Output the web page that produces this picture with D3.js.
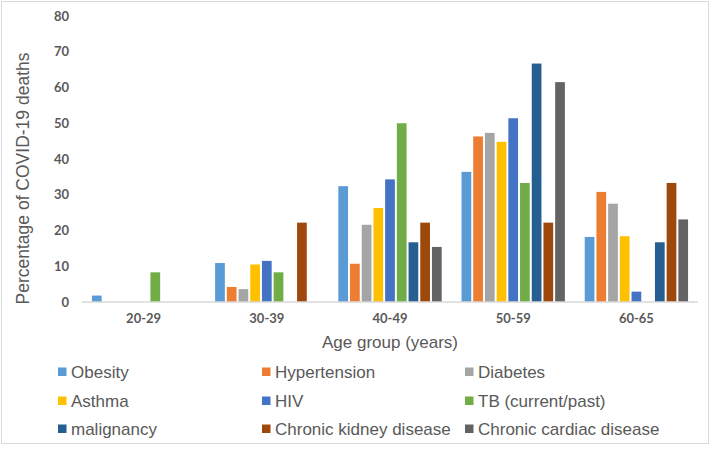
<!DOCTYPE html>
<html>
<head>
<meta charset="utf-8">
<script src="https://cdn.jsdelivr.net/npm/d3@7"></script>
<style>
  html, body { margin: 0; padding: 0; background: #fff; }
  svg { display: block; }
</style>
</head>
<body>
<script>
const categories = ["20-29", "30-39", "40-49", "50-59", "60-65"];
const seriesNames = ["Obesity", "Hypertension", "Diabetes", "Asthma", "HIV", "TB (current/past)", "malignancy", "Chronic kidney disease", "Chronic cardiac disease"];
const seriesColors = ["#5B9BD5", "#ED7D31", "#A5A5A5", "#FFC000", "#4472C4", "#70AD47", "#255E91", "#9E480E", "#636363"];
const obesity      = [1.8, 10.9, 32.4, 36.4, 18.2];
const hypertension = [0, 4.2, 10.7, 46.3, 30.8];
const diabetes     = [0, 3.6, 21.6, 47.3, 27.5];
const asthma       = [0, 10.5, 26.3, 44.8, 18.4];
const hiv          = [0, 11.5, 34.3, 51.4, 2.9];
const tb           = [8.3, 8.3, 50.0, 33.3, 0];
const malignancy   = [0, 0, 16.7, 66.7, 16.7];
const ckd          = [0, 22.2, 22.2, 22.2, 33.3];
const cardiac      = [0, 0, 15.4, 61.5, 23.1];
const yTicks = [0, 10, 20, 30, 40, 50, 60, 70, 80];

const seriesValues = [obesity, hypertension, diabetes, asthma, hiv, tb, malignancy, ckd, cardiac];

const W = 714, H = 452;
const svg = d3.select("body").append("svg").attr("width", W).attr("height", H);

svg.append("rect").attr("x", 1.5).attr("y", 1.5).attr("width", 707).attr("height", 442)
  .attr("fill", "#fff").attr("stroke", "#d9d9d9");

const plot = { left: 82, right: 698, top: 16, bottom: 302 };

const x0 = d3.scaleBand().domain(categories).range([plot.left, plot.right])
  .paddingInner(0.145).paddingOuter(0.0725);
const x1 = d3.scaleBand().domain(seriesNames).range([0, x0.bandwidth()])
  .paddingInner(0.17).paddingOuter(0.085);
const y = d3.scaleLinear().domain([0, 80]).range([plot.bottom, plot.top]);

// bars
const groups = svg.append("g").selectAll("g").data(categories).join("g")
  .attr("transform", c => `translate(${x0(c)},0)`);
groups.selectAll("rect")
  .data((c, ci) => seriesNames.map((s, si) => ({ s, si, v: seriesValues[si][ci] })))
  .join("rect")
  .filter(d => d.v > 0)
  .attr("x", d => x1(d.s))
  .attr("width", x1.bandwidth())
  .attr("y", d => y(d.v))
  .attr("height", d => y(0) - y(d.v))
  .attr("fill", d => seriesColors[d.si]);

// x axis line
const xAxis = d3.axisBottom(x0).tickSize(0).tickPadding(12);
const gx = svg.append("g").attr("transform", `translate(0,${plot.bottom})`).call(xAxis);
gx.select(".domain").attr("stroke", "#d9d9d9").attr("stroke-width", 1.3)
  .attr("d", `M${plot.left},0H${plot.right}`);
gx.selectAll("text").attr("font-family", "Lato, 'Open Sans', sans-serif")
  .attr("font-weight", "bold").attr("font-size", "13px").attr("fill", "#595959");

// y axis labels
const yAxis = d3.axisLeft(y).tickValues(yTicks).tickSize(0).tickPadding(13);
const gy = svg.append("g").attr("transform", `translate(${plot.left},0)`).call(yAxis);
gy.select(".domain").remove();
gy.selectAll("text").attr("font-family", "Lato, 'Open Sans', sans-serif")
  .attr("font-weight", "bold").attr("font-size", "13px").attr("fill", "#595959");

// axis titles
svg.append("text")
  .attr("transform", `translate(28.5,178.5) rotate(-90)`)
  .attr("text-anchor", "middle")
  .attr("font-family", "'Liberation Sans', Arial, sans-serif")
  .attr("font-size", "17.5px").attr("fill", "#595959")
  .text("Percentage of COVID-19 deaths");

svg.append("text")
  .attr("x", (plot.left + plot.right) / 2).attr("y", 348)
  .attr("text-anchor", "middle")
  .attr("font-family", "'Liberation Sans', Arial, sans-serif")
  .attr("font-size", "17px").attr("fill", "#595959")
  .text("Age group (years)");

// legend
const colX = [58, 262, 465];
const rowY = [372, 401, 429];
const leg = svg.append("g").selectAll("g").data(seriesNames).join("g")
  .attr("transform", (d, i) => `translate(${colX[i % 3]},${rowY[Math.floor(i / 3)]})`);
leg.append("rect").attr("x", 0).attr("y", -4.5).attr("width", 8.5).attr("height", 8.5)
  .attr("fill", (d, i) => seriesColors[i]);
leg.append("text").attr("x", 13).attr("y", 0).attr("dy", "0.35em")
  .attr("font-family", "'Liberation Sans', Arial, sans-serif")
  .attr("font-size", "17px").attr("fill", "#595959")
  .text(d => d);
</script>
</body>
</html>
